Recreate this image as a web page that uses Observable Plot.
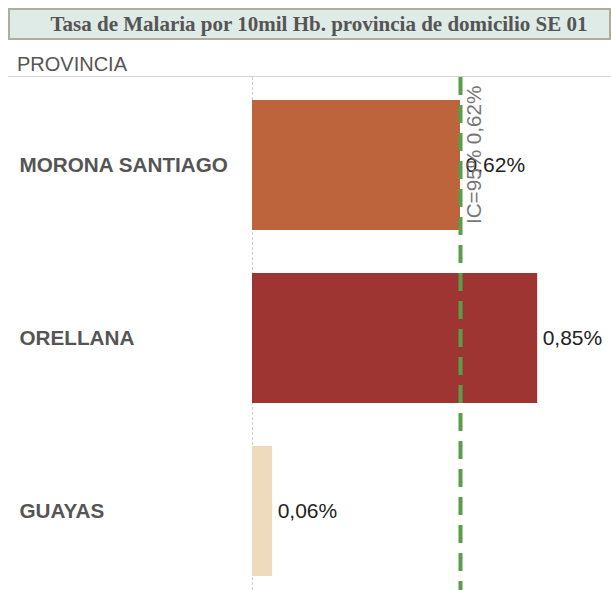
<!DOCTYPE html>
<html>
<head>
<meta charset="utf-8">
<script src="https://cdn.jsdelivr.net/npm/d3@7"></script>
<script src="https://cdn.jsdelivr.net/npm/@observablehq/plot@0.6"></script>
<style>
  html, body { margin: 0; padding: 0; background: #fff; }
  #wrap { position: relative; width: 611px; height: 590px; overflow: hidden; font-family: "Liberation Sans", Arial, sans-serif; }
  #title { position: absolute; left: 8px; top: 8px; width: 603px; height: 32px; background: #dfebe7; border: 2px solid #aeae9f;
           font-family: "Liberation Serif", "Times New Roman", serif; font-weight: bold; font-size: 21px; color: #555;
           line-height: 28px; text-align: center; padding-left: 19px; box-sizing: border-box; white-space: nowrap; }
  #header { position: absolute; left: 17px; top: 53px; font-size: 20px; color: #555; }
  #hline { position: absolute; left: 8px; top: 76px; width: 603px; height: 0; border-top: 1px solid #d4d4d4; }
  #chart { position: absolute; left: 0; top: 77px; }
</style>
</head>
<body>
<div id="wrap">
  <div id="title">Tasa de Malaria por 10mil Hb. provincia de domicilio SE 01</div>
  <div id="header">PROVINCIA</div>
  <div id="hline"></div>
  <div id="chart"></div>
</div>
<script>
const provincias = ["MORONA SANTIAGO", "ORELLANA", "GUAYAS"];
const tasas = [0.62, 0.85, 0.06];
const colores = ["#bd643c", "#9e3533", "#eedbbd"];
const refValor = [0.62];
const refEtiqueta = ["IC=95% 0,62%"];

const data = provincias.map((p, i) => ({prov: p, tasa: tasas[i], color: colores[i]}));
const refs = refValor.map((v, i) => ({value: v, label: refEtiqueta[i]}));
const fmt = v => v.toFixed(2).replace(".", ",") + "%";

const chart = Plot.plot({
  width: 611,
  height: 513,
  marginTop: 0,
  marginBottom: 0,
  marginLeft: 252,
  marginRight: 23.5,
  style: {fontFamily: "'Liberation Sans', Arial, sans-serif", overflow: "visible"},
  x: {domain: [0, 1], axis: null},
  y: {domain: provincias, range: [1, 520], paddingInner: 0.25, paddingOuter: 0.125, axis: null},
  marks: [
    Plot.ruleX([0], {stroke: "#cfcfcf", strokeDasharray: "3,2"}),
    Plot.barX(data, {x: "tasa", y: "prov", fill: "color"}),
    Plot.text(data, {x: "tasa", y: "prov", text: d => fmt(d.tasa), textAnchor: "start", dx: 5, fontSize: 21, fill: "#222"}),
    Plot.text(data, {y: "prov", text: "prov", frameAnchor: "left", textAnchor: "start", dx: -233, fontSize: 20.7, fontWeight: "bold", fill: "#555"}),
    Plot.ruleX(refs, {x: "value", stroke: "#5a9e4b", strokeWidth: 4, strokeDasharray: "18,10"}),
    Plot.text(refs, {x: "value", text: "label", frameAnchor: "top", rotate: -90, textAnchor: "end", dx: 6, dy: 8, fontSize: 20.7, fill: "#777"})
  ]
});
document.getElementById("chart").appendChild(chart);
</script>
</body>
</html>
